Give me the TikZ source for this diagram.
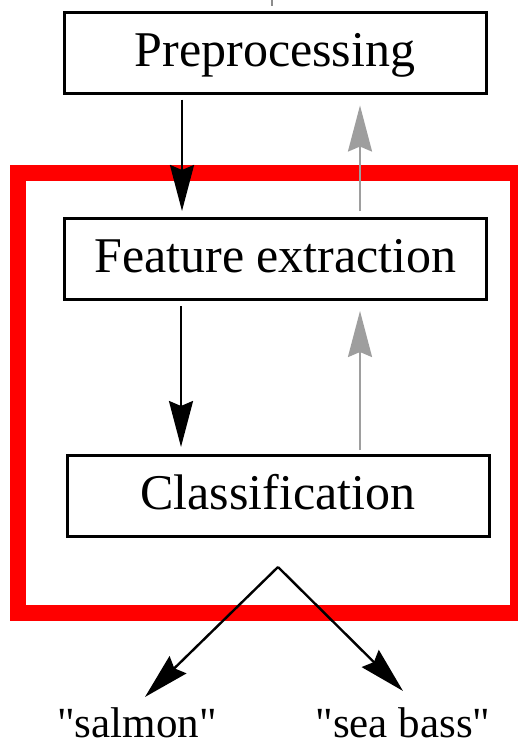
\documentclass[tikz,border=0pt]{standalone}
\usepackage{fontspec}
\setmainfont{Liberation Serif}[Ligatures=TeXOff]
\newfontfamily\stagefont{Liberation Serif}[Ligatures=TeXOff]
\usetikzlibrary{arrows.meta}
\begin{document}
\begin{tikzpicture}[x=1pt,y=-1pt,
  stage/.style={draw=black, line width=3pt, fill=white, minimum width=422pt,
    minimum height=81pt, inner sep=0pt, text height=37.5pt, text depth=10pt,
    font=\stagefont\fontsize{50}{60}\selectfont},
  outlabel/.style={inner sep=0pt, anchor=base, font=\stagefont\fontsize{43}{50}\selectfont},
  fwd/.style={draw=black, line width=2.4pt,
    -{Stealth[length=46pt,width=24pt,inset=5pt]}},
  back/.style={draw=black!38, line width=2.2pt,
    -{Stealth[length=46pt,width=24pt,inset=5pt]}},
  frame/.style={draw=red, line width=16pt}]
  \useasboundingbox[fill=white] (0,0) rectangle (518,747);

  % incoming line from above, cut at the top edge
  \coordinate (inA) at (272,0);
  \coordinate (inB) at (272,6);
  \draw[black!45, line width=1.5pt] (inA) -- (inB);

  % processing stages
  \node[stage] (pre) at (275,52.5) {Preprocessing};
  \node[stage] (fe)  at (275.5,259) {Feature extraction};
  \node[stage] (cls) at (278,496) {Classification};

  % highlighted part of the pipeline
  \draw[frame] (17.5,173) rectangle (518,613);

  % forward and feedback connections
  \draw[fwd]  ([xshift=-93pt,yshift=-5pt]pre.south) -- ([xshift=-93.5pt,yshift=6pt]fe.north);
  \draw[back] ([xshift=84.5pt,yshift=6pt]fe.north) -- ([xshift=85pt,yshift=-11pt]pre.south);
  \draw[fwd]  ([xshift=-94.5pt,yshift=-5pt]fe.south) -- ([xshift=-97pt,yshift=7pt]cls.north);
  \draw[back] ([xshift=82pt,yshift=4pt]cls.north) -- ([xshift=84.5pt,yshift=-10pt]fe.south);

  % decisions
  \node[outlabel] (salmon) at (137,737) {"salmon"};
  \node[outlabel] (bass)   at (403,737) {"sea bass"};
  \coordinate (split) at ([yshift=-29pt]cls.south);
  \coordinate (tipL) at ([xshift=8pt,yshift=10pt]salmon.north);
  \coordinate (tipR) at ([yshift=16pt]bass.north);
  \draw[fwd] (split) -- (tipL);
  \draw[fwd] (split) -- (tipR);
\end{tikzpicture}
\end{document}
